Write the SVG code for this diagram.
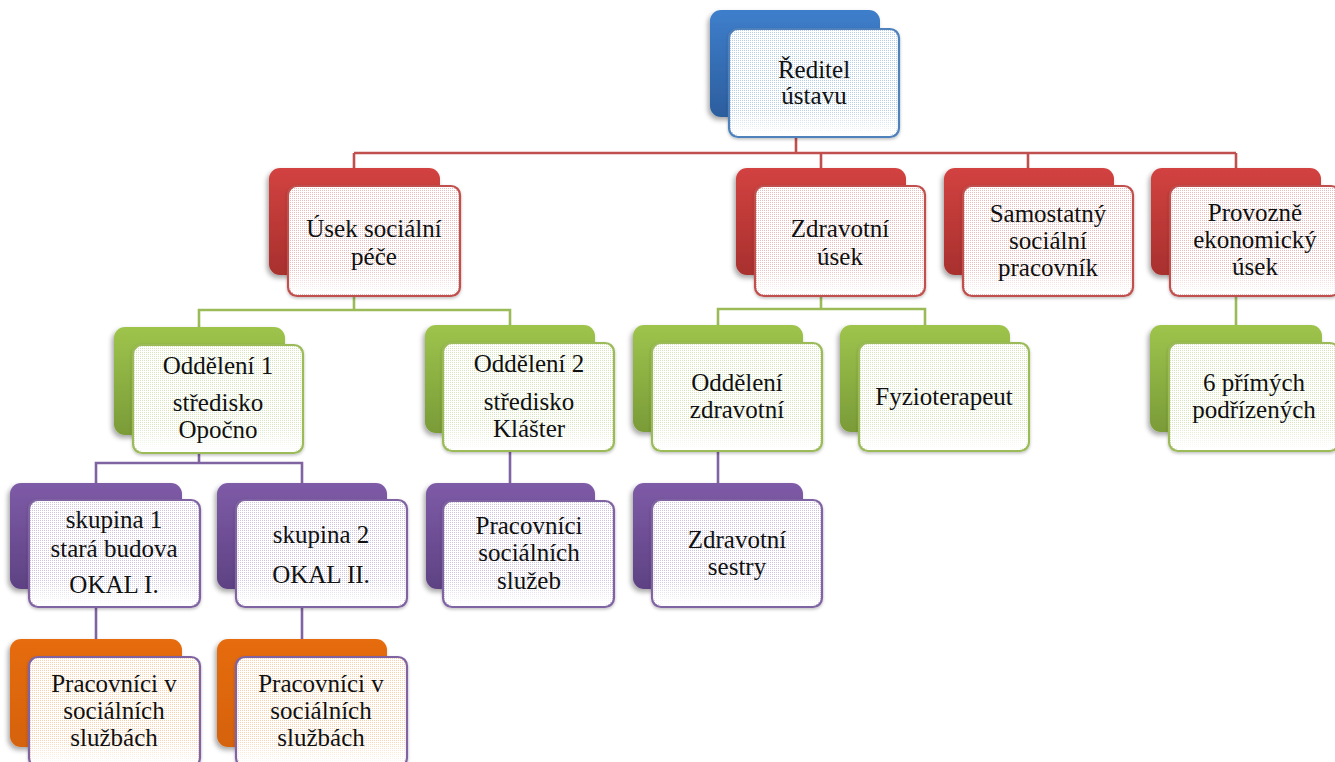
<svg xmlns="http://www.w3.org/2000/svg" width="1335" height="762" viewBox="0 0 1335 762">
<style>
text{font-family:"Liberation Serif","Times New Roman",serif;font-size:25px;fill:#111;text-anchor:middle}
.b{filter:url(#sh)}
.f{stroke-width:2.2}
.fade{fill:url(#fade)}
.c{fill:none;stroke-width:2.6}
.cr{stroke:#C0504D}.cg{stroke:#9BBB59}.cp{stroke:#8064A2}
</style>
<defs>
<filter id="sh" x="-10%" y="-10%" width="125%" height="130%"><feDropShadow dx="-2" dy="3" stdDeviation="2.5" flood-color="#000" flood-opacity="0.35"/></filter>
<filter id="sh2" x="-10%" y="-10%" width="125%" height="130%"><feDropShadow dx="0" dy="1.5" stdDeviation="1.5" flood-color="#000" flood-opacity="0.25"/></filter>
<linearGradient id="gBlue" x1="0" y1="0" x2="0" y2="1"><stop offset="0" stop-color="#3E7ECB"/><stop offset="1" stop-color="#2C5E9E"/></linearGradient>
<linearGradient id="gRed" x1="0" y1="0" x2="0" y2="1"><stop offset="0" stop-color="#D24240"/><stop offset="1" stop-color="#A8302E"/></linearGradient>
<linearGradient id="gGreen" x1="0" y1="0" x2="0" y2="1"><stop offset="0" stop-color="#9EC44C"/><stop offset="1" stop-color="#7A9B38"/></linearGradient>
<linearGradient id="gPurple" x1="0" y1="0" x2="0" y2="1"><stop offset="0" stop-color="#7E5BA7"/><stop offset="1" stop-color="#5E4283"/></linearGradient>
<linearGradient id="gOrange" x1="0" y1="0" x2="0" y2="1"><stop offset="0" stop-color="#E66C0C"/><stop offset="1" stop-color="#D5620A"/></linearGradient>
<linearGradient id="fade" x1="0" y1="0" x2="0" y2="1"><stop offset="0.75" stop-color="#fff" stop-opacity="0"/><stop offset="1" stop-color="#fff" stop-opacity="1"/></linearGradient>
<pattern id="pBlue" width="2" height="2" patternUnits="userSpaceOnUse"><rect width="2" height="2" fill="#fff"/><rect width="1" height="1" fill="#4F81BD" opacity="0.4"/></pattern>
<pattern id="pRed" width="2" height="2" patternUnits="userSpaceOnUse"><rect width="2" height="2" fill="#fff"/><rect width="1" height="1" fill="#C0504D" opacity="0.38"/></pattern>
<pattern id="pGreen" width="2" height="2" patternUnits="userSpaceOnUse"><rect width="2" height="2" fill="#fff"/><rect width="1" height="1" fill="#9BBB59" opacity="0.4"/></pattern>
<pattern id="pPurple" width="2" height="2" patternUnits="userSpaceOnUse"><rect width="2" height="2" fill="#fff"/><rect width="1" height="1" fill="#8064A2" opacity="0.38"/></pattern>
<pattern id="pOrange" width="2" height="2" patternUnits="userSpaceOnUse"><rect width="2" height="2" fill="#fff"/><rect width="1" height="1" fill="#F79646" opacity="0.45"/></pattern>
</defs>
<rect width="1335" height="762" fill="#fff"/>

<g id="connectors">
<path class="c cr" d="M796,137 V153 M354,153 H1236 M354,153 V168 M821,153 V168 M1028,153 V168 M1236,153 V168"/>
<path class="c cg" d="M354,296 V310 H199 V327 M354,310 H510 V325 M821,296 V309 H718 V325 M718,309 H925 V325 M1236,296 V325"/>
<path class="c cp" d="M199,453 V463 H96 V483 M199,463 H302 V483 M510,451 V483 M718,451 V483 M96,607 V639 M302,607 V639"/>
</g>

<g id="n-reditel">
<rect class="b" x="710" y="10" width="170" height="107" rx="11" fill="url(#gBlue)"/>
<rect class="f" x="729" y="29" width="170" height="108" rx="9" fill="url(#pBlue)" stroke="#4F81BD" filter="url(#sh2)"/>
<rect class="fade" x="731" y="31" width="166" height="104" rx="8"/>
<text x="814" y="78">Ředitel</text><text x="814" y="104">ústavu</text>
</g>

<g id="n-usek-soc">
<rect class="b" x="269" y="168" width="171" height="107" rx="11" fill="url(#gRed)"/>
<rect class="f" x="288" y="186" width="172" height="110" rx="9" fill="url(#pRed)" stroke="#C0504D" filter="url(#sh2)"/>
<rect class="fade" x="290" y="188" width="168" height="106" rx="8"/>
<text x="374" y="237">Úsek sociální</text><text x="374" y="265">péče</text>
</g>

<g id="n-zdrav-usek">
<rect class="b" x="736" y="168" width="170" height="107" rx="11" fill="url(#gRed)"/>
<rect class="f" x="755" y="186" width="170" height="110" rx="9" fill="url(#pRed)" stroke="#C0504D" filter="url(#sh2)"/>
<rect class="fade" x="757" y="188" width="166" height="106" rx="8"/>
<text x="840" y="237">Zdravotní</text><text x="840" y="265">úsek</text>
</g>

<g id="n-samostatny">
<rect class="b" x="944" y="168" width="170" height="107" rx="11" fill="url(#gRed)"/>
<rect class="f" x="963" y="186" width="170" height="110" rx="9" fill="url(#pRed)" stroke="#C0504D" filter="url(#sh2)"/>
<rect class="fade" x="965" y="188" width="166" height="106" rx="8"/>
<text x="1048" y="222">Samostatný</text><text x="1048" y="249">sociální</text><text x="1048" y="276">pracovník</text>
</g>

<g id="n-provozne">
<rect class="b" x="1151" y="168" width="170" height="107" rx="11" fill="url(#gRed)"/>
<rect class="f" x="1170" y="186" width="170" height="110" rx="9" fill="url(#pRed)" stroke="#C0504D" filter="url(#sh2)"/>
<rect class="fade" x="1172" y="188" width="166" height="106" rx="8"/>
<text x="1255" y="221">Provozně</text><text x="1255" y="248">ekonomický</text><text x="1255" y="275">úsek</text>
</g>

<g id="n-odd1">
<rect class="b" x="114" y="327" width="171" height="108" rx="11" fill="url(#gGreen)"/>
<rect class="f" x="133" y="345" width="170" height="108" rx="9" fill="url(#pGreen)" stroke="#9BBB59" filter="url(#sh2)"/>
<rect class="fade" x="135" y="347" width="166" height="104" rx="8"/>
<text x="218" y="374">Oddělení 1</text><text x="218" y="411">středisko</text><text x="218" y="438">Opočno</text>
</g>

<g id="n-odd2">
<rect class="b" x="425" y="325" width="170" height="108" rx="11" fill="url(#gGreen)"/>
<rect class="f" x="443" y="343" width="171" height="108" rx="9" fill="url(#pGreen)" stroke="#9BBB59" filter="url(#sh2)"/>
<rect class="fade" x="445" y="345" width="167" height="104" rx="8"/>
<text x="529" y="372">Oddělení 2</text><text x="529" y="410">středisko</text><text x="529" y="437">Klášter</text>
</g>

<g id="n-odd-zdrav">
<rect class="b" x="633" y="325" width="170" height="107" rx="11" fill="url(#gGreen)"/>
<rect class="f" x="652" y="343" width="170" height="108" rx="9" fill="url(#pGreen)" stroke="#9BBB59" filter="url(#sh2)"/>
<rect class="fade" x="654" y="345" width="166" height="104" rx="8"/>
<text x="737" y="391">Oddělení</text><text x="737" y="418">zdravotní</text>
</g>

<g id="n-fyzio">
<rect class="b" x="840" y="325" width="170" height="107" rx="11" fill="url(#gGreen)"/>
<rect class="f" x="859" y="343" width="170" height="108" rx="9" fill="url(#pGreen)" stroke="#9BBB59" filter="url(#sh2)"/>
<rect class="fade" x="861" y="345" width="166" height="104" rx="8"/>
<text x="944" y="405">Fyzioterapeut</text>
</g>

<g id="n-6primych">
<rect class="b" x="1150" y="325" width="172" height="107" rx="11" fill="url(#gGreen)"/>
<rect class="f" x="1169" y="343" width="170" height="108" rx="9" fill="url(#pGreen)" stroke="#9BBB59" filter="url(#sh2)"/>
<rect class="fade" x="1171" y="345" width="166" height="104" rx="8"/>
<text x="1254" y="391">6 přímých</text><text x="1254" y="418">podřízených</text>
</g>

<g id="n-skupina1">
<rect class="b" x="10" y="483" width="172" height="106" rx="11" fill="url(#gPurple)"/>
<rect class="f" x="29" y="500" width="171" height="107" rx="9" fill="url(#pPurple)" stroke="#8064A2" filter="url(#sh2)"/>
<rect class="fade" x="31" y="502" width="167" height="103" rx="8"/>
<text x="114" y="528">skupina 1</text><text x="114" y="557">stará budova</text><text x="114" y="593">OKAL I.</text>
</g>

<g id="n-skupina2">
<rect class="b" x="217" y="483" width="170" height="106" rx="11" fill="url(#gPurple)"/>
<rect class="f" x="236" y="500" width="171" height="107" rx="9" fill="url(#pPurple)" stroke="#8064A2" filter="url(#sh2)"/>
<rect class="fade" x="238" y="502" width="167" height="103" rx="8"/>
<text x="321" y="543">skupina 2</text><text x="321" y="583">OKAL II.</text>
</g>

<g id="n-prac-sluzeb">
<rect class="b" x="426" y="483" width="169" height="106" rx="11" fill="url(#gPurple)"/>
<rect class="f" x="443" y="501" width="171" height="106" rx="9" fill="url(#pPurple)" stroke="#8064A2" filter="url(#sh2)"/>
<rect class="fade" x="445" y="503" width="167" height="102" rx="8"/>
<text x="529" y="534">Pracovníci</text><text x="529" y="561">sociálních</text><text x="529" y="589">služeb</text>
</g>

<g id="n-sestry">
<rect class="b" x="633" y="483" width="170" height="106" rx="11" fill="url(#gPurple)"/>
<rect class="f" x="652" y="500" width="170" height="107" rx="9" fill="url(#pPurple)" stroke="#8064A2" filter="url(#sh2)"/>
<rect class="fade" x="654" y="502" width="166" height="103" rx="8"/>
<text x="737" y="548">Zdravotní</text><text x="737" y="575">sestry</text>
</g>

<g id="n-prac1">
<rect class="b" x="10" y="639" width="172" height="108" rx="11" fill="url(#gOrange)"/>
<rect class="f" x="29" y="657" width="171" height="110" rx="9" fill="url(#pOrange)" stroke="#8064A2" filter="url(#sh2)"/>
<rect class="fade" x="31" y="659" width="167" height="106" rx="8"/>
<text x="114" y="692">Pracovníci v</text><text x="114" y="719">sociálních</text><text x="114" y="746">službách</text>
</g>

<g id="n-prac2">
<rect class="b" x="217" y="639" width="170" height="108" rx="11" fill="url(#gOrange)"/>
<rect class="f" x="236" y="657" width="171" height="110" rx="9" fill="url(#pOrange)" stroke="#8064A2" filter="url(#sh2)"/>
<rect class="fade" x="238" y="659" width="167" height="106" rx="8"/>
<text x="321" y="692">Pracovníci v</text><text x="321" y="719">sociálních</text><text x="321" y="746">službách</text>
</g>
</svg>
